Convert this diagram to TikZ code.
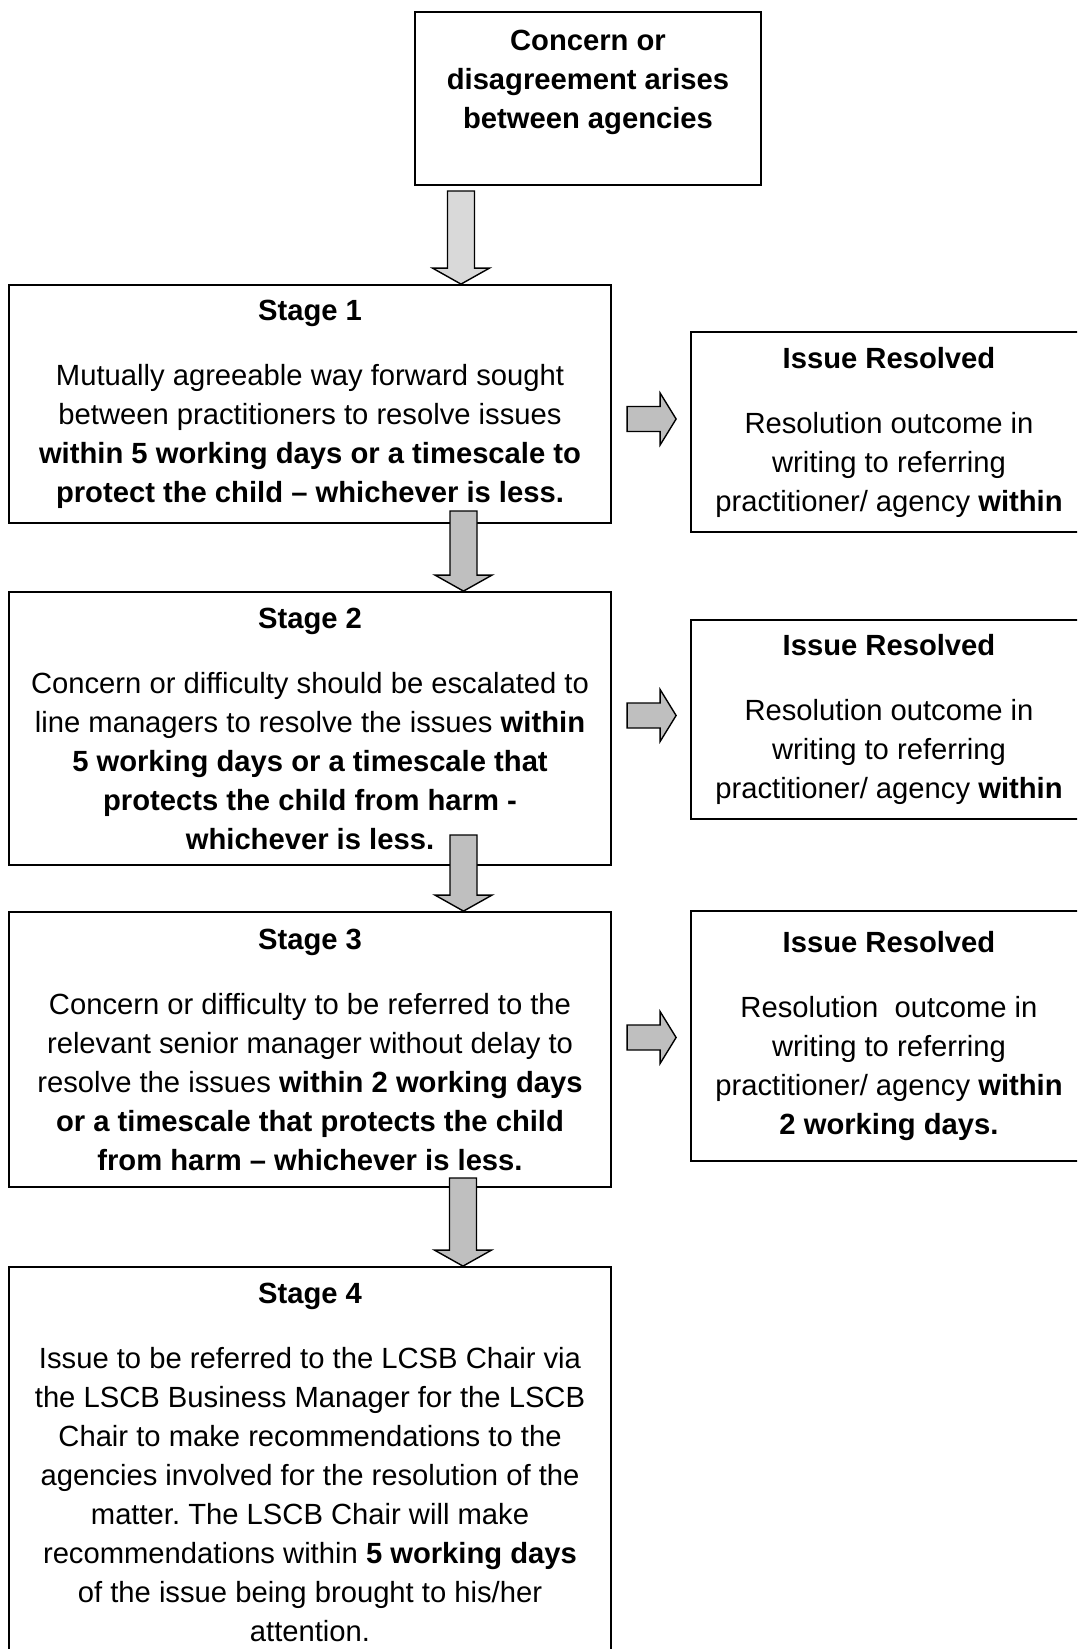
\documentclass[tikz,border=0pt]{standalone}
\usepackage{fontspec}
\setmainfont{Liberation Sans}
\usepackage{xcolor}
\usepackage{tikz}
\usetikzlibrary{calc}

\frenchspacing
\def\pix{0.5pt}

\definecolor{arrowlight}{gray}{0.85}
\definecolor{arrowgrey}{gray}{0.75}

% down block arrow: fill, x of shaft, y of tail, target node
\newcommand{\flowdown}[4]{%
  \coordinate (tail) at (#2,#3);
  \coordinate (tip) at (#2,0 |- #4.north);
  \filldraw[blockarrow, fill=#1]
    ($(tail)+(-13.5,0)$) -- ($(tail)+(13.5,0)$)
    -- ($(tip)+(13.5,-16)$) -- ($(tip)+(28.5,-16)$)
    -- (tip)
    -- ($(tip)+(-28.5,-16)$) -- ($(tip)+(-13.5,-16)$) -- cycle;
}

% right block arrow: y of shaft, target node
\newcommand{\flowright}[2]{%
  \coordinate (tip) at ($(#2.west |- 0,#1)+(-14,0)$);
  \filldraw[blockarrow, fill=arrowgrey]
    ($(tip)+(-49,-12.5)$) -- ($(tip)+(-16,-12.5)$)
    -- ($(tip)+(-16,-26)$) -- (tip) -- ($(tip)+(-16,26)$)
    -- ($(tip)+(-16,12.5)$) -- ($(tip)+(-49,12.5)$) -- cycle;
}

\begin{document}
\begin{tikzpicture}[
    x=\pix, y=-\pix,
    box/.style={draw, line width=0.9pt, align=center, inner sep=0pt,
                font={\fontsize{14.6pt}{19.5pt}\selectfont}},
    stagebox/.style={box, minimum width=602*\pix},
    resolvedbox/.style={box, minimum width=396*\pix},
    blockarrow/.style={draw=black, line width=0.7pt, line join=miter}
]

\useasboundingbox (0,0) rectangle (1077,1649);
\clip (0,0) rectangle (1077,1649);

% -------------------------------------------------
% Start
% -------------------------------------------------

\node[box, minimum width=346*\pix, minimum height=173*\pix]
  (start) at (588,98.5) {};

\node[align=center, font={\fontsize{14.6pt}{19.5pt}\selectfont\bfseries}]
  (starttext) at (588,82)
{Concern or\\disagreement arises\\between agencies};

% -------------------------------------------------
% Stages
% -------------------------------------------------

\node[stagebox, minimum height=238*\pix] (s1) at (310,404)
{
\textbf{Stage 1}\\[13pt]
Mutually agreeable way forward sought\\
between practitioners to resolve issues\\
\textbf{within 5 working days or a timescale to}\\
\textbf{protect the child -- whichever is less.}
};

\node[stagebox, minimum height=273*\pix] (s2) at (310,728.5)
{
\textbf{Stage 2}\\[13pt]
Concern or difficulty should be escalated to\\
line managers to resolve the issues \textbf{within}\\
\textbf{5 working days or a timescale that}\\
\textbf{protects the child from harm -}\\
\textbf{whichever is less.}
};

\node[stagebox, minimum height=275*\pix] (s3) at (310,1049.5)
{
\textbf{Stage 3}\\[13pt]
Concern or difficulty to be referred to the\\
relevant senior manager without delay to\\
resolve the issues \textbf{within 2 working days}\\
\textbf{or a timescale that protects the child}\\
\textbf{from harm -- whichever is less.}
};

\node[stagebox, minimum height=391*\pix] (s4) at (310,1462.5)
{
\textbf{Stage 4}\\[13pt]
Issue to be referred to the LCSB Chair via\\
the LSCB Business Manager for the LSCB\\
Chair to make recommendations to the\\
agencies involved for the resolution of the\\
matter. The LSCB Chair will make\\
recommendations within \textbf{5 working days}\\
of the issue being brought to his/her\\
attention.
};

% -------------------------------------------------
% Issue resolved
% -------------------------------------------------

\node[resolvedbox, minimum height=200*\pix] (r1) at (889,432)
{
\textbf{Issue Resolved}\\[13pt]
Resolution outcome in\\
writing to referring\\
practitioner/ agency \textbf{within}
};

\node[resolvedbox, minimum height=199*\pix] (r2) at (889,719.5)
{
\textbf{Issue Resolved}\\[13pt]
Resolution outcome in\\
writing to referring\\
practitioner/ agency \textbf{within}
};

\node[resolvedbox, minimum height=250*\pix] (r3) at (889,1036)
{
\textbf{Issue Resolved}\\[13pt]
Resolution\ \ outcome in\\
writing to referring\\
practitioner/ agency \textbf{within}\\
\textbf{2 working days.}
};

% -------------------------------------------------
% Arrows
% -------------------------------------------------

\flowdown{arrowlight}{461}{191}{s1}
\flowdown{arrowgrey}{463.5}{511}{s2}
\flowdown{arrowgrey}{463.5}{835}{s3}
\flowdown{arrowgrey}{463}{1178}{s4}

\flowright{419}{r1}
\flowright{715.5}{r2}
\flowright{1037.5}{r3}

\end{tikzpicture}
\end{document}
